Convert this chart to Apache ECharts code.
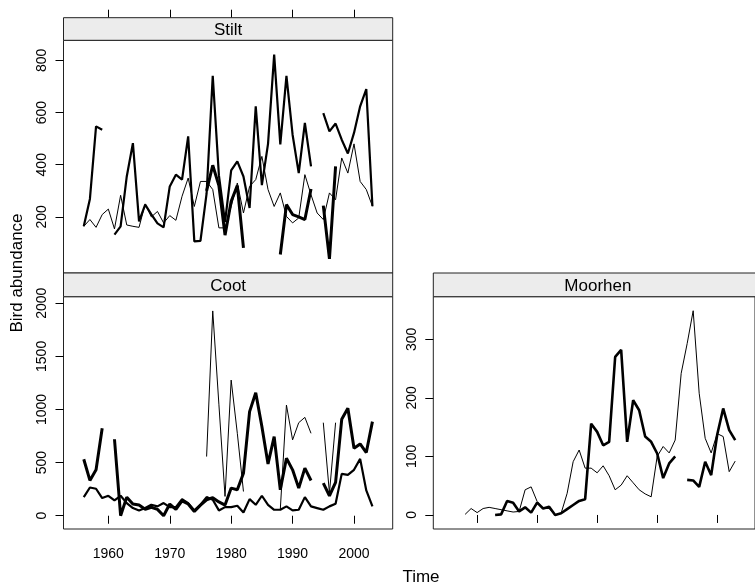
<!DOCTYPE html>
<html><head><meta charset="utf-8">
<script src="https://cdn.jsdelivr.net/npm/echarts@6/dist/echarts.min.js"></script>
<style>html,body{margin:0;padding:0;background:#fff}#c{width:755px;height:586px}</style>
</head><body><div id="c"></div>
<script>
// ---------- data ----------
const years = [1956,1957,1958,1959,1960,1961,1962,1963,1964,1965,1966,1967,1968,1969,1970,1971,1972,1973,1974,1975,
  1976,1977,1978,1979,1980,1981,1982,1983,1984,1985,1986,1987,1988,1989,1990,1991,1992,1993,1994,1995,
  1996,1997,1998,1999,2000,2001,2002,2003];
const xTickLabels = [1960,1970,1980,1990,2000];
const stiltTicks = [200,400,600,800];
const cootTicks = [0,500,1000,1500,2000];
const moorhenTicks = [0,100,200,300];
const panelNames = ['Stilt','Coot','Moorhen'];

// Stilt
const stiltThin = [164,190,160,209,230,154,283,169,164,160,250,200,221,177,205,187,279,349,240,336,
  336,305,158,158,240,330,215,317,343,432,305,240,292,202,177,196,362,285,215,190,
  292,266,426,368,480,336,305,241];
const stiltMed = [164,269,547,534,null,132,164,355,483,183,247,210,175,160,317,362,343,509,106,108,
  290,741,360,180,378,413,355,234,624,322,480,822,478,741,515,368,560,394,null,598,
  528,558,496,443,522,624,690,241];
const stiltThick = [null,null,null,null,null,null,null,null,null,null,null,null,null,null,null,null,null,null,null,null,
  300,398,320,130,260,320,81,null,null,null,null,null,56,247,209,200,190,307,null,243,
  39,394,null,null,null,null,null,null];
// Coot
const cootThin = [null,null,null,null,null,null,null,null,null,null,null,null,null,null,null,null,null,null,null,null,
  557,1928,1050,182,1277,776,228,null,null,null,null,null,60,1042,714,876,926,776,null,876,
  213,876,null,null,null,null,null,null];
const cootMed = [175,266,254,166,188,144,188,119,72,50,72,103,88,119,81,81,156,119,50,103,
  175,150,50,81,81,94,31,156,103,188,103,56,56,88,50,56,175,88,72,56,
  88,113,394,385,432,535,238,88];
const cootThick = [532,332,432,823,null,720,0,175,110,100,60,80,60,0,110,60,140,110,40,100,
  150,170,130,100,260,244,400,980,1158,839,488,745,244,541,432,260,448,332,null,307,
  188,313,908,1011,635,676,595,886];
// Moorhen
const moorhenThin = [null,null,1,11,4,11,13,11,9,7,5,6,43,48,23,11,11,0,3,37,
  91,111,80,80,72,84,67,43,51,67,55,43,36,31,100,117,106,128,242,293,
  349,208,131,106,139,134,74,92];
const moorhenThick = [null,null,null,null,null,null,null,0,1,24,21,6,13,4,21,11,14,0,3,10,
  17,24,27,156,142,119,125,270,282,125,196,179,134,125,105,63,88,100,null,60,
  59,48,91,68,137,182,145,128];

// ---------- chart ----------
const FONT = 'Liberation Sans, Arial, Helvetica, sans-serif';
const pairs = vals => years.map((y, i) => [y, vals[i]]);
const plain = v => String(v);
const X0 = 1952.7, X1 = 2006.3;
const P = [
  {left: 63.5, top: 40.3, width: 329.2, height: 232.7},
  {left: 63.5, top: 296.7, width: 329.2, height: 232.3},
  {left: 433.3, top: 296.7, width: 329.2, height: 232.3}
];
const yr = [[-15, 877], [-125, 2062], [-24, 373]];
const yt = [stiltTicks, cootTicks, moorhenTicks];

const tick = (vals) => ({show: true, customValues: vals, length: 8, lineStyle: {color: '#000', width: 1}});

const grids = P.map(p => Object.assign({show: true, borderColor: '#222', borderWidth: 1, containLabel: false}, p));

const xAxis = [
  {gridIndex: 0, type: 'value', min: X0, max: X1, show: false},
  {gridIndex: 0, type: 'value', min: X0, max: X1, position: 'top', offset: 22.6,
    axisLine: {show: false}, axisTick: tick(xTickLabels), axisLabel: {show: false}, splitLine: {show: false}},
  {gridIndex: 1, type: 'value', min: X0, max: X1, position: 'bottom',
    axisLine: {show: false}, axisTick: tick(xTickLabels),
    axisLabel: {show: true, customValues: xTickLabels, formatter: plain, fontSize: 14, margin: 18, color: '#000', fontFamily: FONT},
    splitLine: {show: false}},
  {gridIndex: 2, type: 'value', min: X0, max: X1, position: 'bottom',
    axisLine: {show: false}, axisTick: tick(xTickLabels), axisLabel: {show: false}, splitLine: {show: false}}
];

const yAxis = [0, 1, 2].map(i => ({
  gridIndex: i, type: 'value', min: yr[i][0], max: yr[i][1], position: 'left',
  axisLine: {show: false}, axisTick: tick(yt[i]),
  axisLabel: {show: true, customValues: yt[i], formatter: plain, rotate: 90, fontSize: 14, margin: 14, color: '#000', fontFamily: FONT},
  splitLine: {show: false}
}));

const line = (vals, xi, yi, w) => ({
  type: 'line', xAxisIndex: xi, yAxisIndex: yi, data: pairs(vals),
  showSymbol: false, symbol: 'none', connectNulls: false, animation: false,
  lineStyle: {color: '#000', width: w}
});

const series = [
  line(stiltThin, 0, 0, 1), line(stiltMed, 0, 0, 2.2), line(stiltThick, 0, 0, 3),
  line(cootThin, 2, 1, 1), line(cootMed, 2, 1, 2.2), line(cootThick, 2, 1, 3),
  line(moorhenThin, 3, 2, 1), line(moorhenThick, 3, 2, 2.6)
];

const strip = (p, top, h, name) => [
  {type: 'rect', shape: {x: p.left, y: top, width: p.width, height: h},
    style: {fill: '#ececec', stroke: '#222', lineWidth: 1}, z: 10},
  {type: 'text', x: p.left + p.width / 2, y: top + h / 2 + 1,
    style: {text: name, fill: '#000', font: '17px ' + FONT, textAlign: 'center', textVerticalAlign: 'middle'}, z: 11}
];

const graphic = [
  ...strip(P[0], 17.7, 22.6, panelNames[0]),
  ...strip(P[1], 273, 23.7, panelNames[1]),
  ...strip(P[2], 273, 23.7, panelNames[2]),
  {type: 'text', x: 421, y: 577, style: {text: 'Time', fill: '#000', font: '17px ' + FONT, textAlign: 'center', textVerticalAlign: 'middle'}},
  {type: 'text', x: 17, y: 273, rotation: Math.PI / 2,
    style: {text: 'Bird abundance', fill: '#000', font: '17px ' + FONT, textAlign: 'center', textVerticalAlign: 'middle'}}
];

const chart = echarts.init(document.getElementById('c'), null, {renderer: 'canvas'});
chart.setOption({
  animation: false,
  backgroundColor: '#fff',
  grid: grids, xAxis, yAxis, series, graphic
});
</script>
</body></html>
